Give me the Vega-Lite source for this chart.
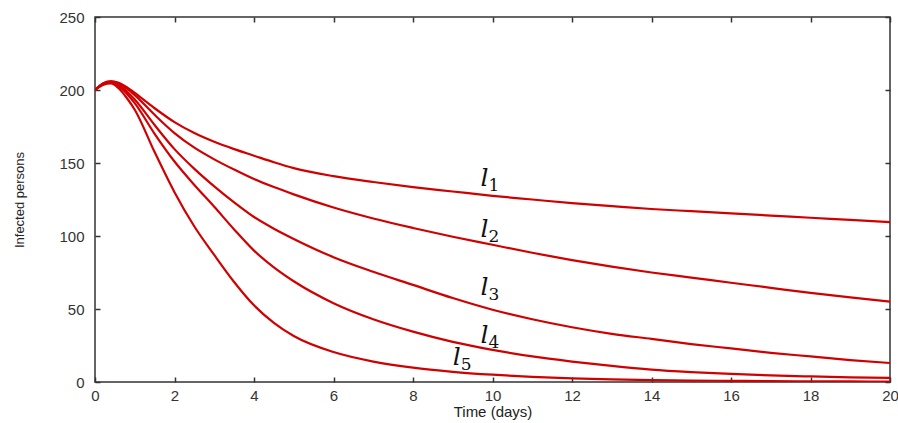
{
  "$schema": "https://vega.github.io/schema/vega-lite/v6.json",
  "autosize": {"type": "none"},
  "padding": {"left": 95, "top": 17, "right": 8, "bottom": 41},
  "width": 795,
  "height": 365,
  "background": "white",
  "config": {
    "view": {"stroke": "#333333", "strokeWidth": 1.5},
    "axis": {"grid": false, "domain": false, "labelFont": "Liberation Sans", "titleFont": "Liberation Sans", "labelColor": "#333333", "titleColor": "#222222", "tickColor": "#333333", "tickWidth": 1.5}
  },
  "datasets": {
    "curves": [
      {"curve": "l1", "t": 0, "v": 200}, {"curve": "l1", "t": 0.2, "v": 204.5}, {"curve": "l1", "t": 0.4, "v": 206}, {"curve": "l1", "t": 0.6, "v": 205}, {"curve": "l1", "t": 0.8, "v": 202}, {"curve": "l1", "t": 1, "v": 198}, {"curve": "l1", "t": 1.5, "v": 187.5}, {"curve": "l1", "t": 2, "v": 178}, {"curve": "l1", "t": 2.5, "v": 170.5}, {"curve": "l1", "t": 3, "v": 164.5}, {"curve": "l1", "t": 3.5, "v": 159.5}, {"curve": "l1", "t": 4, "v": 155}, {"curve": "l1", "t": 4.5, "v": 150.5}, {"curve": "l1", "t": 5, "v": 146.5}, {"curve": "l1", "t": 6, "v": 141}, {"curve": "l1", "t": 7, "v": 137}, {"curve": "l1", "t": 8, "v": 133.5}, {"curve": "l1", "t": 9, "v": 130.5}, {"curve": "l1", "t": 10, "v": 127.5}, {"curve": "l1", "t": 11, "v": 125}, {"curve": "l1", "t": 12, "v": 122.5}, {"curve": "l1", "t": 13, "v": 120.5}, {"curve": "l1", "t": 14, "v": 118.5}, {"curve": "l1", "t": 15, "v": 117}, {"curve": "l1", "t": 16, "v": 115.5}, {"curve": "l1", "t": 17, "v": 114}, {"curve": "l1", "t": 18, "v": 112.5}, {"curve": "l1", "t": 19, "v": 111}, {"curve": "l1", "t": 20, "v": 109.5},
      {"curve": "l2", "t": 0, "v": 200}, {"curve": "l2", "t": 0.2, "v": 204.5}, {"curve": "l2", "t": 0.4, "v": 206}, {"curve": "l2", "t": 0.6, "v": 204.5}, {"curve": "l2", "t": 0.8, "v": 201}, {"curve": "l2", "t": 1, "v": 196.5}, {"curve": "l2", "t": 1.5, "v": 183}, {"curve": "l2", "t": 2, "v": 170.5}, {"curve": "l2", "t": 2.5, "v": 160.5}, {"curve": "l2", "t": 3, "v": 152.5}, {"curve": "l2", "t": 3.5, "v": 145.5}, {"curve": "l2", "t": 4, "v": 139}, {"curve": "l2", "t": 4.5, "v": 133.5}, {"curve": "l2", "t": 5, "v": 128.5}, {"curve": "l2", "t": 6, "v": 119.5}, {"curve": "l2", "t": 7, "v": 112}, {"curve": "l2", "t": 8, "v": 105.5}, {"curve": "l2", "t": 9, "v": 99.5}, {"curve": "l2", "t": 10, "v": 94}, {"curve": "l2", "t": 11, "v": 88.5}, {"curve": "l2", "t": 12, "v": 83.5}, {"curve": "l2", "t": 13, "v": 79}, {"curve": "l2", "t": 14, "v": 75}, {"curve": "l2", "t": 15, "v": 71.5}, {"curve": "l2", "t": 16, "v": 68}, {"curve": "l2", "t": 17, "v": 64.5}, {"curve": "l2", "t": 18, "v": 61}, {"curve": "l2", "t": 19, "v": 58}, {"curve": "l2", "t": 20, "v": 55},
      {"curve": "l3", "t": 0, "v": 200}, {"curve": "l3", "t": 0.2, "v": 204}, {"curve": "l3", "t": 0.4, "v": 205.5}, {"curve": "l3", "t": 0.6, "v": 203.5}, {"curve": "l3", "t": 0.8, "v": 199}, {"curve": "l3", "t": 1, "v": 193.5}, {"curve": "l3", "t": 1.5, "v": 176}, {"curve": "l3", "t": 2, "v": 159.5}, {"curve": "l3", "t": 2.5, "v": 146}, {"curve": "l3", "t": 3, "v": 134}, {"curve": "l3", "t": 3.5, "v": 123}, {"curve": "l3", "t": 4, "v": 113}, {"curve": "l3", "t": 4.5, "v": 105}, {"curve": "l3", "t": 5, "v": 98}, {"curve": "l3", "t": 6, "v": 85.5}, {"curve": "l3", "t": 7, "v": 75.5}, {"curve": "l3", "t": 8, "v": 66.5}, {"curve": "l3", "t": 9, "v": 57.5}, {"curve": "l3", "t": 10, "v": 49.5}, {"curve": "l3", "t": 11, "v": 43}, {"curve": "l3", "t": 12, "v": 37.5}, {"curve": "l3", "t": 13, "v": 33}, {"curve": "l3", "t": 14, "v": 29.5}, {"curve": "l3", "t": 15, "v": 26}, {"curve": "l3", "t": 16, "v": 23}, {"curve": "l3", "t": 17, "v": 20}, {"curve": "l3", "t": 18, "v": 17.5}, {"curve": "l3", "t": 19, "v": 15}, {"curve": "l3", "t": 20, "v": 13},
      {"curve": "l4", "t": 0, "v": 200}, {"curve": "l4", "t": 0.2, "v": 204}, {"curve": "l4", "t": 0.4, "v": 205}, {"curve": "l4", "t": 0.6, "v": 202.5}, {"curve": "l4", "t": 0.8, "v": 197.5}, {"curve": "l4", "t": 1, "v": 191}, {"curve": "l4", "t": 1.5, "v": 170}, {"curve": "l4", "t": 2, "v": 151}, {"curve": "l4", "t": 2.5, "v": 135}, {"curve": "l4", "t": 3, "v": 120}, {"curve": "l4", "t": 3.5, "v": 104.5}, {"curve": "l4", "t": 4, "v": 90}, {"curve": "l4", "t": 4.5, "v": 78.5}, {"curve": "l4", "t": 5, "v": 69}, {"curve": "l4", "t": 6, "v": 54}, {"curve": "l4", "t": 7, "v": 43}, {"curve": "l4", "t": 8, "v": 34.5}, {"curve": "l4", "t": 9, "v": 27.5}, {"curve": "l4", "t": 10, "v": 22}, {"curve": "l4", "t": 11, "v": 17.5}, {"curve": "l4", "t": 12, "v": 14}, {"curve": "l4", "t": 13, "v": 11}, {"curve": "l4", "t": 14, "v": 8.5}, {"curve": "l4", "t": 15, "v": 6.8}, {"curve": "l4", "t": 16, "v": 5.5}, {"curve": "l4", "t": 17, "v": 4.5}, {"curve": "l4", "t": 18, "v": 3.8}, {"curve": "l4", "t": 19, "v": 3.2}, {"curve": "l4", "t": 20, "v": 2.8},
      {"curve": "l5", "t": 0, "v": 200}, {"curve": "l5", "t": 0.2, "v": 203.5}, {"curve": "l5", "t": 0.4, "v": 204.5}, {"curve": "l5", "t": 0.6, "v": 201}, {"curve": "l5", "t": 0.8, "v": 194.5}, {"curve": "l5", "t": 1, "v": 186.5}, {"curve": "l5", "t": 1.5, "v": 157.5}, {"curve": "l5", "t": 2, "v": 130}, {"curve": "l5", "t": 2.5, "v": 106.5}, {"curve": "l5", "t": 3, "v": 87}, {"curve": "l5", "t": 3.5, "v": 68.5}, {"curve": "l5", "t": 4, "v": 52.5}, {"curve": "l5", "t": 4.5, "v": 40.5}, {"curve": "l5", "t": 5, "v": 31.5}, {"curve": "l5", "t": 6, "v": 20.5}, {"curve": "l5", "t": 7, "v": 14}, {"curve": "l5", "t": 8, "v": 9.8}, {"curve": "l5", "t": 9, "v": 7}, {"curve": "l5", "t": 10, "v": 5}, {"curve": "l5", "t": 11, "v": 3.5}, {"curve": "l5", "t": 12, "v": 2.5}, {"curve": "l5", "t": 13, "v": 1.8}, {"curve": "l5", "t": 14, "v": 1.3}, {"curve": "l5", "t": 15, "v": 1}, {"curve": "l5", "t": 16, "v": 0.8}, {"curve": "l5", "t": 17, "v": 0.6}, {"curve": "l5", "t": 18, "v": 0.5}, {"curve": "l5", "t": 19, "v": 0.4}, {"curve": "l5", "t": 20, "v": 0.3}
    ],
    "labels": [
      {"name": "l", "sub": "1", "t": 9.8, "v": 134},
      {"name": "l", "sub": "2", "t": 9.8, "v": 99.5},
      {"name": "l", "sub": "3", "t": 9.8, "v": 59.5},
      {"name": "l", "sub": "4", "t": 9.8, "v": 26.5},
      {"name": "l", "sub": "5", "t": 9.1, "v": 11.5}
    ]
  },
  "layer": [
    {
      "data": {"name": "curves"},
      "mark": {"type": "line", "color": "#d00000", "strokeWidth": 2.2, "interpolate": "monotone", "clip": true},
      "encoding": {
        "x": {"field": "t", "type": "quantitative", "scale": {"domain": [0, 20], "nice": false},
          "axis": {"orient": "bottom", "values": [0,2,4,6,8,10,12,14,16,18,20], "title": "Time (days)", "titleFontSize": 15, "titleFontWeight": "normal", "titlePadding": 1, "labelFontSize": 15, "labelPadding": 11, "tickSize": -5, "labelFlush": false}},
        "y": {"field": "v", "type": "quantitative", "scale": {"domain": [0, 250], "nice": false},
          "axis": {"orient": "left", "values": [0,50,100,150,200,250], "title": "Infected persons", "titleFontSize": 13, "titleFontWeight": "normal", "titlePadding": 32, "labelFontSize": 15, "labelPadding": 16, "tickSize": -5}},
        "detail": {"field": "curve"}
      }
    },
    {
      "data": {"name": "labels"},
      "mark": {"type": "text", "font": "DejaVu Serif", "fontStyle": "italic", "fontSize": 25, "color": "#111111", "align": "center", "baseline": "alphabetic"},
      "encoding": {
        "x": {"field": "t", "type": "quantitative", "axis": {"orient": "top", "values": [0,2,4,6,8,10,12,14,16,18,20], "labels": false, "title": null, "tickSize": -5}},
        "y": {"field": "v", "type": "quantitative", "axis": {"orient": "right", "values": [0,50,100,150,200,250], "labels": false, "title": null, "tickSize": -5}},
        "text": {"field": "name"}
      }
    },
    {
      "data": {"name": "labels"},
      "mark": {"type": "text", "font": "DejaVu Serif", "fontSize": 17, "color": "#111111", "align": "left", "baseline": "alphabetic", "dx": 4, "dy": 5},
      "encoding": {
        "x": {"field": "t", "type": "quantitative", "axis": null},
        "y": {"field": "v", "type": "quantitative", "axis": null},
        "text": {"field": "sub"}
      }
    }
  ],
  "resolve": {"axis": {"x": "independent", "y": "independent"}}
}
